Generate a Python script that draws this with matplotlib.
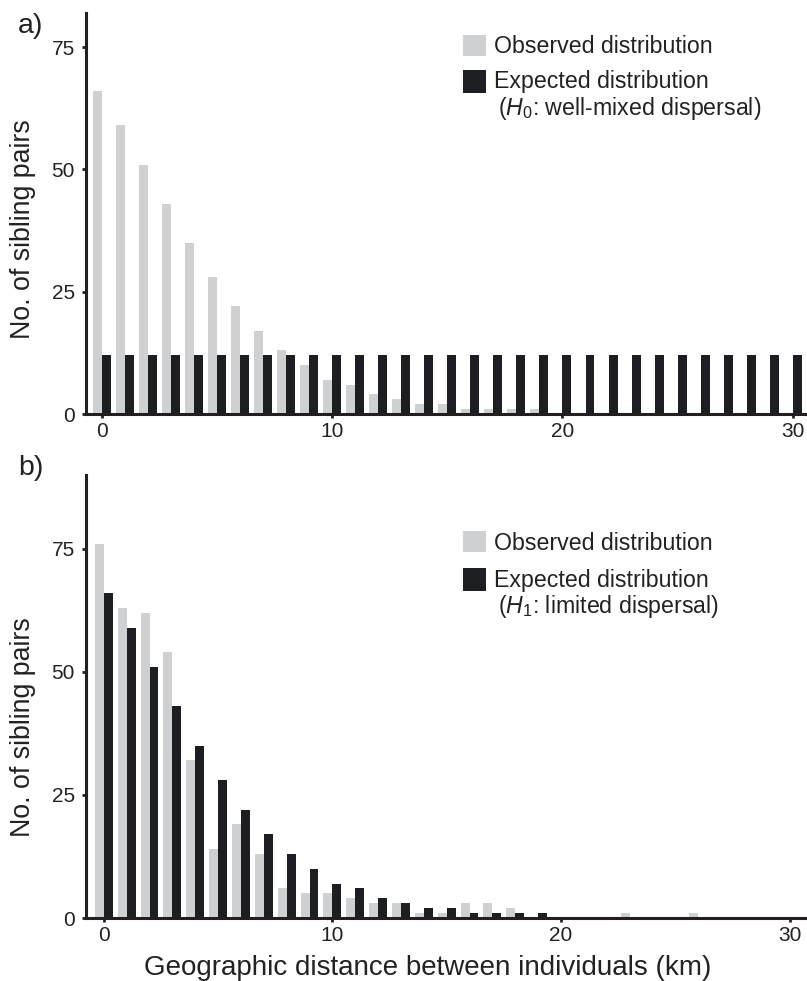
import numpy as np
import matplotlib
matplotlib.use("Agg")
import matplotlib.pyplot as plt
from matplotlib.patches import Rectangle

plt.rcParams['font.family'] = ['Liberation Sans', 'DejaVu Sans']
plt.rcParams['mathtext.fontset'] = 'custom'
plt.rcParams['mathtext.rm'] = 'Liberation Sans'
plt.rcParams['mathtext.it'] = 'Liberation Sans:italic'

# distance classes (km)
distance = list(range(0, 31))

# a) observed vs expected under well-mixed dispersal
observed_a = [66, 59, 51, 43, 35, 28, 22, 17, 13, 10, 7, 6, 4, 3, 2, 2, 1, 1, 1, 1,
              0, 0, 0, 0, 0, 0, 0, 0, 0, 0, 0]
expected_a = [12] * 31

# b) observed vs expected under limited dispersal
observed_b = [76, 63, 62, 54, 32, 14, 19, 13, 6, 5, 5, 4, 3, 3, 1, 1, 3, 3, 2, 0,
              0, 0, 0, 1, 0, 0, 1, 0, 0, 0, 0]
expected_b = [66, 59, 51, 43, 35, 28, 22, 17, 13, 10, 7, 6, 4, 3, 2, 2, 1, 1, 1, 1,
              0, 0, 0, 0, 0, 0, 0, 0, 0, 0, 0]

legend_obs = "Observed distribution"
legend_exp = "Expected distribution"
legend_a = r"($\mathit{H}_0$: well-mixed dispersal)"
legend_b = r"($\mathit{H}_1$: limited dispersal)"

GREY = "#cfd0d2"
BLACK = "#1d1e21"
AXCOL = "#231f20"
W, H = 807, 981
bw = 0.39


def fx(px):
	return px / W


def fy(py):
	return 1 - py / H


def style_axis(ax, xlim, ylim):
	ax.set_xlim(*xlim)
	ax.set_ylim(*ylim)
	for s in ["top", "right"]:
		ax.spines[s].set_visible(False)
	for s in ["left", "bottom"]:
		ax.spines[s].set_linewidth(2.2)
		ax.spines[s].set_color(AXCOL)
	ax.set_xticks([0, 10, 20, 30])
	ax.set_yticks([0, 25, 50, 75])
	ax.tick_params(axis="both", length=3, width=2, color=AXCOL,
			labelsize=15, labelcolor="#222222")
	ax.tick_params(axis="y", pad=5)
	ax.tick_params(axis="x", pad=3)
	ax.set_ylabel("No. of sibling pairs", fontsize=19.3, color="#222222")


def draw_panel(ax, obs, exp):
	x = np.array(distance)
	ax.bar(x - bw / 2, obs, width=bw, color=GREY, linewidth=0)
	ax.bar(x + bw / 2, exp, width=bw, color=BLACK, linewidth=0)


def draw_legend(fig, top_grey, top_black, base1, base2, base3, label3):
	fig.add_artist(Rectangle((fx(463), fy(top_grey + 21)), 23 / W, 21 / H,
			transform=fig.transFigure, color=GREY, lw=0))
	fig.add_artist(Rectangle((fx(463), fy(top_black + 23)), 23 / W, 23 / H,
			transform=fig.transFigure, color=BLACK, lw=0))
	kw = dict(fontsize=16.7, color="#222222", va="baseline", ha="left")
	fig.text(fx(494), fy(base1), legend_obs, **kw)
	fig.text(fx(494), fy(base2), legend_exp, **kw)
	fig.text(fx(498), fy(base3), label3, **kw)


fig = plt.figure(figsize=(W / 100, H / 100), dpi=100)

ax1 = fig.add_axes([fx(86), fy(414), (806 - 86) / W, (414 - 13) / H])
draw_panel(ax1, observed_a, expected_a)
style_axis(ax1, (-0.68, 30.57), (0, 82))
ax1.yaxis.set_label_coords(-0.07, 0.461)

ax2 = fig.add_axes([fx(86), fy(918), (806 - 86) / W, (918 - 475) / H])
draw_panel(ax2, observed_b, expected_b)
style_axis(ax2, (-0.78, 30.72), (0, 90))
ax2.yaxis.set_label_coords(-0.07, 0.431)
ax2.set_xlabel("Geographic distance between individuals (km)", fontsize=20,
		color="#222222")
ax2.xaxis.set_label_coords(0.475, -0.083)

draw_legend(fig, 35, 70, 53, 88, 115, legend_a)
draw_legend(fig, 531, 568, 550, 587, 613, legend_b)

fig.text(fx(18), fy(33), "a)", fontsize=20.5, color="#222222", va="baseline")
fig.text(fx(18), fy(475), "b)", fontsize=20.5, color="#222222", va="baseline")

fig.savefig("out.png", dpi=100)
